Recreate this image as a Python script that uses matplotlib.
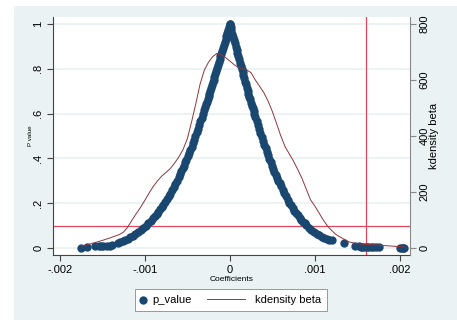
import numpy as np
import matplotlib
matplotlib.use('Agg')
import matplotlib.pyplot as plt
from matplotlib.patches import Rectangle
from matplotlib.legend_handler import HandlerLine2D, HandlerPathCollection

# ---------- data ----------
# |coefficient| in units of 1e-5, shared by both branches of the p-value cloud
coef_grid_e5 = [0, 1, 2, 3, 4, 5, 6, 7, 8, 9, 10, 11, 12, 13, 14, 15, 16, 17, 18, 19, 20,
                21, 22, 23, 24, 25, 26, 27, 28, 29, 30,
                31.5, 33, 34.5, 36, 37.5, 39, 40.5, 42, 43.5, 45, 46.5, 48, 49.5, 51,
                52.5, 54, 55.5, 57, 58.5, 60,
                62, 64, 66, 68, 70, 72, 74, 76, 78, 80, 82, 84, 86, 88, 90,
                93, 96, 99, 102, 105, 108, 111, 114, 117, 120]

p_left = [1.000, 0.987, 0.973, 0.960, 0.947, 0.934, 0.920, 0.907, 0.894, 0.881, 0.868,
          0.855, 0.842, 0.829, 0.816, 0.803, 0.790, 0.777, 0.764, 0.752, 0.739,
          0.726, 0.714, 0.701, 0.689, 0.677, 0.665, 0.653, 0.641, 0.629, 0.617,
          0.600, 0.582, 0.565, 0.549, 0.532, 0.516, 0.500, 0.484, 0.468, 0.453,
          0.438, 0.424, 0.409, 0.395, 0.382, 0.368, 0.355, 0.342, 0.330, 0.317,
          0.301, 0.286, 0.271, 0.257, 0.243, 0.230, 0.217, 0.205, 0.194, 0.182,
          0.172, 0.162, 0.152, 0.142, 0.134,
          0.121, 0.110, 0.099, 0.089, 0.080, 0.072, 0.063, 0.055, 0.048, 0.042]

p_right = [1.000, 0.986, 0.971, 0.957, 0.942, 0.928, 0.913, 0.899, 0.884, 0.870, 0.856,
           0.842, 0.827, 0.813, 0.799, 0.785, 0.771, 0.757, 0.743, 0.730, 0.716,
           0.703, 0.689, 0.676, 0.663, 0.649, 0.636, 0.623, 0.611, 0.598, 0.585,
           0.567, 0.549, 0.531, 0.513, 0.495, 0.478, 0.462, 0.445, 0.429, 0.413,
           0.398, 0.383, 0.368, 0.354, 0.340, 0.326, 0.313, 0.300, 0.288, 0.275,
           0.260, 0.245, 0.230, 0.216, 0.203, 0.191, 0.179, 0.167, 0.156, 0.146,
           0.136, 0.127, 0.118, 0.110, 0.102,
           0.091, 0.081, 0.072, 0.064, 0.056, 0.050, 0.044, 0.040, 0.037, 0.034]

# loose points in the tails (coefficient in 1e-5, p value)
tail_left_e5 = [-123, -126, -129, -132, -138, -141, -144, -149, -151, -154, -158, -168, -175]
tail_left_p = [0.036, 0.031, 0.026, 0.022, 0.012, 0.011, 0.010, 0.009, 0.008, 0.008, 0.007, 0.003, 0.002]
tail_right_e5 = [134, 147, 152, 154, 156, 158, 161, 163, 166, 169, 172, 175, 200, 202, 204, 205]
tail_right_p = [0.021, 0.011, 0.007, 0.006, 0.006, 0.006, 0.005, 0.005, 0.004, 0.004, 0.004,
                0.003, 0.002, 0.002, 0.002, 0.001]

# kernel density of beta
kde_x = [-0.00175, -0.0017, -0.0016, -0.0015, -0.0014, -0.0013, -0.00125, -0.0012, -0.00115,
         -0.0011, -0.00105, -0.001, -0.00095, -0.0009, -0.00085, -0.0008, -0.00075, -0.0007,
         -0.00065, -0.0006, -0.00055, -0.0005, -0.00045, -0.0004, -0.00035, -0.0003, -0.00025,
         -0.0002, -0.00015, -0.0001, -0.00005, 0.0, 0.00005, 0.0001, 0.00015, 0.0002, 0.00025,
         0.0003, 0.00035, 0.0004, 0.00045, 0.0005, 0.00055, 0.0006, 0.00065, 0.0007, 0.00075,
         0.0008, 0.00085, 0.0009, 0.00095, 0.001, 0.00105, 0.0011, 0.00115, 0.0012, 0.00125,
         0.0013, 0.0014, 0.0015, 0.0016, 0.0017, 0.0018, 0.0019, 0.002, 0.00205]
kde_y = [7, 10, 18, 27, 37, 48, 57, 75, 100, 123, 145, 170, 196, 220, 240, 257, 270, 284,
         303, 325, 352, 390, 450, 515, 585, 635, 664, 684, 695, 690, 680, 668, 655, 645, 640,
         636, 626, 600, 578, 555, 525, 488, 445, 400, 362, 336, 310, 280, 248, 210, 172, 150,
         125, 100, 78, 62, 48, 39, 22, 15, 13, 11, 9, 7, 5, 4]

p_cut = 0.1
coef_cut = 0.0016

x_ticks = [-0.002, -0.001, 0, 0.001, 0.002]
x_ticklabels = ['-.002', '-.001', '0', '.001', '.002']
p_ticks = [0, 0.2, 0.4, 0.6, 0.8, 1]
p_ticklabels = ['0', '.2', '.4', '.6', '.8', '1']
kde_ticks = [0, 200, 400, 600, 800]

# ---------- style ----------
plt.rcParams['font.family'] = 'Liberation Sans'
navy = '#1a476f'
maroon = '#90353b'
line_red = '#e0475f'
bg = '#eaf2f3'
W, H = 457, 320


# legend keys: dot near the left of its slot, line reaching back into the gap
class DotKey(HandlerPathCollection):
    def get_xdata(self, legend, xdescent, ydescent, width, height, fontsize):
        x = [-xdescent + 1.7]
        return x, x


class LineKey(HandlerLine2D):
    def get_xdata(self, legend, xdescent, ydescent, width, height, fontsize):
        x = np.array([-xdescent - 25.8, -xdescent + 1.6])
        return x, x


fig = plt.figure(figsize=(W / 100, H / 100), dpi=100)
fig.patch.set_facecolor('white')
fig.patches.append(Rectangle((14 / W, 0), (W - 14) / W, (H - 6) / H, transform=fig.transFigure,
                             facecolor=bg, edgecolor='none', zorder=-10))

ax = fig.add_axes([53 / W, 65 / H, 357 / W, 238 / H])
ax.set_facecolor('white')

coef = np.array(coef_grid_e5) * 1e-5
xs = np.concatenate([-coef, coef, np.array(tail_left_e5) * 1e-5, np.array(tail_right_e5) * 1e-5])
ps = np.concatenate([p_left, p_right, tail_left_p, tail_right_p])

ax.axhline(p_cut, color=line_red, lw=0.9, zorder=1)
ax.axvline(coef_cut, color=line_red, lw=0.9, zorder=1)
sc = ax.scatter(xs, ps, s=36, color=navy, linewidths=0, zorder=2, label='p_value')

ax.set_xlim(-0.00208, 0.00212)
ax.set_ylim(-0.03125, 1.03125)
ax.set_xticks(x_ticks)
ax.set_xticklabels(x_ticklabels)
ax.set_yticks(p_ticks)
ax.set_yticklabels(p_ticklabels)
ax.yaxis.grid(True, color=bg, lw=1.3)
ax.set_axisbelow(True)
for s in ['top', 'right']:
    ax.spines[s].set_visible(False)
for s in ['left', 'bottom']:
    ax.spines[s].set_color('#444444')
    ax.spines[s].set_linewidth(0.8)
ax.tick_params(axis='both', direction='out', length=4, width=0.8, color='#444444',
               labelsize=8, pad=3)
ax.tick_params(axis='y', labelrotation=90)
for lab in ax.get_yticklabels():
    lab.set_va('center')

ax.set_xlabel('Coefficients', fontsize=6, va='top')
ax.xaxis.set_label_coords(0.5, -0.088)
ax.set_ylabel('P value', fontsize=4.5)
ax.yaxis.set_label_coords(-0.057, 0.5)

ax2 = ax.twinx()
kde_line, = ax2.plot(kde_x, kde_y, color=maroon, lw=0.7, zorder=3, label='kdensity beta')
ax2.set_ylim(-25, 825)
ax2.set_yticks(kde_ticks)
for s in ['top', 'left', 'bottom']:
    ax2.spines[s].set_visible(False)
ax2.spines['right'].set_color('#888888')
ax2.spines['right'].set_linewidth(0.8)
ax2.tick_params(axis='y', direction='out', length=4, width=0.8, color='#888888',
                labelsize=8, pad=3, labelrotation=90)
for lab in ax2.get_yticklabels():
    lab.set_va('center')
ax2.set_ylabel('kdensity beta', fontsize=8)
ax2.yaxis.set_label_coords(1.052, 0.5)

leg = fig.legend(handles=[sc, kde_line], labels=['p_value', 'kdensity beta'],
                 handler_map={sc: DotKey(), kde_line: LineKey()},
                 loc='center', bbox_to_anchor=(231 / W, 1 - 300 / H), ncol=2, fontsize=8,
                 frameon=True, fancybox=False, edgecolor='#999999', framealpha=1,
                 handlelength=1.0, handletextpad=0.1, columnspacing=4.6, borderpad=0.5,
                 scatterpoints=1)
leg.get_frame().set_linewidth(0.7)

fig.savefig('out.png', dpi=100, facecolor=fig.get_facecolor())
